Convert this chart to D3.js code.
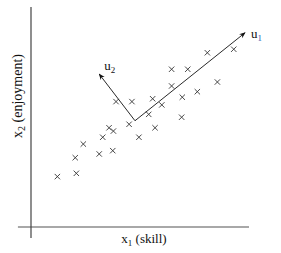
<!DOCTYPE html>
<html>
<head>
<meta charset="utf-8">
<script src="https://cdn.jsdelivr.net/npm/d3@7"></script>
<style>
  body { margin: 0; background: #fff; }
  text { font-family: "Liberation Serif", "DejaVu Serif", serif; fill: #111; }
</style>
</head>
<body>
<script>
// skill (x1) and enjoyment (x2) for each sample
var skill = [12.1, 20.8, 20.3, 24.0, 31.3, 32.9, 37.5, 35.8, 37.8, 39.0, 45.0, 46.3, 49.5,
             54.0, 55.8, 56.9, 60.0, 64.5, 64.5, 69.1, 69.4, 71.9, 76.3, 80.9, 85.5, 93.0];
var enjoyment = [22.9, 24.4, 31.5, 37.7, 33.2, 40.8, 34.7, 45.1, 43.6, 57.0, 46.7, 57.0, 40.8,
                 51.2, 58.3, 45.1, 55.5, 71.7, 64.1, 49.9, 59.0, 71.7, 61.5, 79.2, 65.9, 80.8];

// principal directions, from the mean
var origin = [47.7, 48.3];
var dirNames = ["u1", "u2"];
var dirTips = [[98.2, 88.3], [31.3, 69.5]];

var width = 281, height = 253;

var x = d3.scaleLinear().domain([0, 100]).range([31, 249]);
var y = d3.scaleLinear().domain([0, 100]).range([227, 7]);

var svg = d3.select("body").append("svg")
    .attr("width", width)
    .attr("height", height);

svg.append("defs").append("marker")
    .attr("id", "arrow")
    .attr("viewBox", "0 0 10 10")
    .attr("refX", 9).attr("refY", 5)
    .attr("markerWidth", 7).attr("markerHeight", 7)
    .attr("orient", "auto")
  .append("path")
    .attr("d", "M0,1 L10,5 L0,9 L3,5 Z")
    .attr("fill", "#111");

// axes
svg.append("line")
    .attr("x1", x(-6)).attr("x2", x(100))
    .attr("y1", y(0)).attr("y2", y(0))
    .attr("stroke", "#a8a8a8").attr("stroke-width", 2);
svg.append("line")
    .attr("x1", x(0)).attr("x2", x(0))
    .attr("y1", y(100)).attr("y2", y(-5))
    .attr("stroke", "#444").attr("stroke-width", 1.2);

// crosses
var r = 2.7;
svg.selectAll(".pt")
    .data(d3.range(skill.length))
  .enter().append("path")
    .attr("class", "pt")
    .attr("d", function(i) {
      var cx = x(skill[i]), cy = y(enjoyment[i]);
      return "M" + (cx - r) + "," + (cy - r) + "L" + (cx + r) + "," + (cy + r) +
             "M" + (cx - r) + "," + (cy + r) + "L" + (cx + r) + "," + (cy - r);
    })
    .attr("stroke", "#333")
    .attr("stroke-width", 0.9)
    .attr("fill", "none");

// direction arrows
svg.selectAll(".dir")
    .data(dirTips)
  .enter().append("line")
    .attr("class", "dir")
    .attr("x1", x(origin[0])).attr("y1", y(origin[1]))
    .attr("x2", function(d) { return x(d[0]); })
    .attr("y2", function(d) { return y(d[1]); })
    .attr("stroke", "#111")
    .attr("stroke-width", 0.9)
    .attr("marker-end", "url(#arrow)");

var u1 = svg.append("text")
    .attr("x", x(dirTips[0][0]) + 6).attr("y", y(dirTips[0][1]) + 5)
    .style("font-size", "13px");
u1.append("tspan").text("u");
u1.append("tspan").attr("dy", 3).style("font-size", "9px").style("fill", "#2a5db0").text("1");

var u2 = svg.append("text")
    .attr("x", x(dirTips[1][0]) + 5).attr("y", y(dirTips[1][1]) - 4)
    .style("font-size", "13px");
u2.append("tspan").text("u");
u2.append("tspan").attr("dy", 3).style("font-size", "9px").text("2");

// axis labels
var xl = svg.append("text")
    .attr("x", 144).attr("y", 243)
    .attr("text-anchor", "middle")
    .style("font-size", "13px");
xl.append("tspan").text("x");
xl.append("tspan").attr("dy", 3).style("font-size", "9px").text("1");
xl.append("tspan").attr("dy", -3).text(" (skill)");

var yl = svg.append("text")
    .attr("transform", "translate(22,96) rotate(-90)")
    .attr("text-anchor", "middle")
    .style("font-size", "14px");
yl.append("tspan").text("x");
yl.append("tspan").attr("dy", 3).style("font-size", "10px").text("2");
yl.append("tspan").attr("dy", -3).text(" (enjoyment)");
</script>
</body>
</html>
